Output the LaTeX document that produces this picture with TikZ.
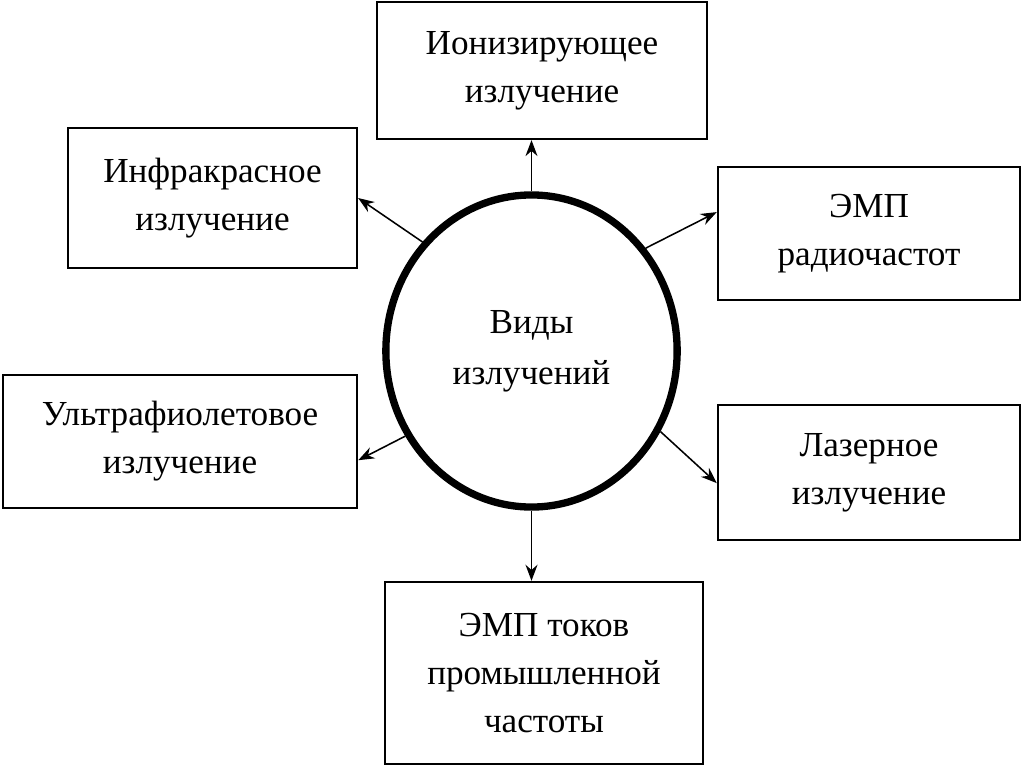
\documentclass[tikz,border=0pt]{standalone}
\usepackage{fontspec}
\setmainfont{Liberation Serif}
\usepackage{tikz}
\usetikzlibrary{shapes.geometric, arrows.meta}

\begin{document}
\begin{tikzpicture}[
        x=0.025cm, y=-0.025cm,
        box/.style={rectangle, draw=black, line width=1.7pt, fill=white, align=center, inner sep=0pt, font=\fontsize{25}{34}\selectfont},
        hub/.style={ellipse, draw=black, line width=5.2pt, align=center, inner sep=0pt, font=\fontsize{25}{36}\selectfont},
        arrow/.style={-{Stealth[length=4mm, width=3mm]}, line width=1.1pt}
    ]
    \useasboundingbox (0,0) rectangle (1024,767);

    \node (types) [hub, minimum width=7.28cm, minimum height=7.8cm] at (531.5,351) {Виды\\ излучений};

    \node (ion) [box, minimum width=8.25cm, minimum height=3.42cm] at (542,70.5) {Ионизирующее\\ излучение};
    \node (infra) [box, minimum width=7.22cm, minimum height=3.5cm] at (212.5,198) {Инфракрасное\\ излучение};
    \node (radio) [box, minimum width=7.55cm, minimum height=3.32cm] at (869,233.5) {ЭМП\\ радиочастот};
    \node (uv) [box, minimum width=8.85cm, minimum height=3.32cm] at (180,441.5) {Ультрафиолетовое\\ излучение};
    \node (laser) [box, minimum width=7.55cm, minimum height=3.38cm] at (869,472.5) {Лазерное\\ излучение};
    \node (power) [box, minimum width=7.95cm, minimum height=4.55cm] at (544,673) {ЭМП токов\\ промышленной\\ частоты};

    \draw [arrow] (types.north) -- (types.north |- ion.south);
    \draw [arrow] (types.135) -- (infra.east);
    \draw [arrow] (types.42) -- (radio.172);
    \draw [arrow] (types.214) -- (uv.-6);
    \draw [arrow] (types.-32) -- (laser.184);
    \draw [arrow] (types.south) -- (types.south |- power.north);

\end{tikzpicture}
\end{document}
